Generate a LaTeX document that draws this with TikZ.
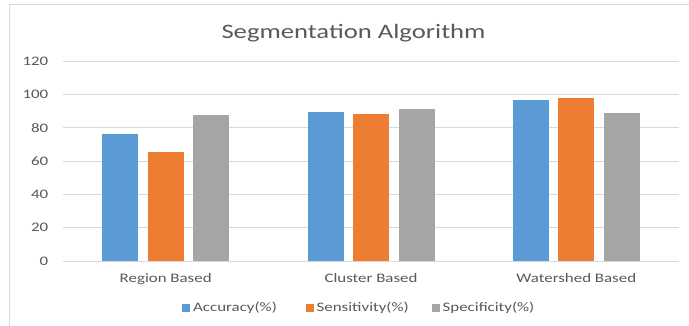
\documentclass[tikz,border=0pt]{standalone}
\usepackage{fontspec}
\setmainfont{Carlito}[FakeStretch=1.3]
\definecolor{framegray}{HTML}{D9D9D9}
\definecolor{gridgray}{HTML}{D9D9D9}
\definecolor{textgray}{HTML}{595959}
\definecolor{accblue}{HTML}{5B9BD5}
\definecolor{senorange}{HTML}{ED7D31}
\definecolor{spegray}{HTML}{A5A5A5}

\begin{document}
\begin{tikzpicture}[x=1pt,y=-1pt,
  framestyle/.style={draw=framegray,line width=1pt},
  gridline/.style={draw=gridgray,line width=0.9pt},
  lbl/.style={text=textgray,font=\fontsize{13}{15}\selectfont,inner sep=0pt},
  titlestyle/.style={text=textgray,font=\fontsize{20.5}{24}\selectfont,inner sep=0pt},
  legkey/.style={inner sep=0pt,minimum size=8pt}]
  \useasboundingbox (0,0) rectangle (689,326);
  \fill[white] (0,0) rectangle (689,326);

  % chart frame (runs off the right and bottom edges)
  \draw[framestyle] (9,330) -- (9,5) -- (693,5);

  % title
  \node[titlestyle,anchor=base] (title) at (353.5,39) {Segmentation Algorithm};

  % horizontal gridlines and value labels, 0..120 step 20
  \foreach \v in {0,20,...,120}{
    \draw[gridline] (63,{261-\v*5/3}) -- (679,{261-\v*5/3});
    \node[lbl,anchor=east] (tick\v) at (48.5,{261-\v*5/3}) {\v};
  }

  % bars: group centre / accuracy / sensitivity / specificity / name / label
  \foreach \c/\a/\s/\p/\n/\t in {
      165.7/76.2/65.6/87.6/region/Region Based,
      371.0/89.2/88.4/91.4/cluster/Cluster Based,
      576.3/96.6/97.6/89.0/watershed/Watershed Based}{
    \fill[accblue]   ({\c-45.5-18},261) rectangle ({\c-45.5+18},{261-\a*5/3});
    \fill[senorange] ({\c-18},261)      rectangle ({\c+18},{261-\s*5/3});
    \fill[spegray]   ({\c+45.5-18},261) rectangle ({\c+45.5+18},{261-\p*5/3});
    \node[lbl,anchor=base] (cat-\n) at (\c,282.5) {\t};
  }

  % legend
  \node[legkey,fill=accblue]   (keyacc) at (186,307.5) {};
  \node[lbl,anchor=base west]  (legacc) at (193,311.5) {Accuracy(\%)};
  \node[legkey,fill=senorange] (keysen) at (309.5,307.5) {};
  \node[lbl,anchor=base west]  (legsen) at (316.5,311.5) {Sensitivity(\%)};
  \node[legkey,fill=spegray]   (keyspe) at (435.5,307.5) {};
  \node[lbl,anchor=base west]  (legspe) at (442.5,311.5) {Specificity(\%)};
\end{tikzpicture}
\end{document}
